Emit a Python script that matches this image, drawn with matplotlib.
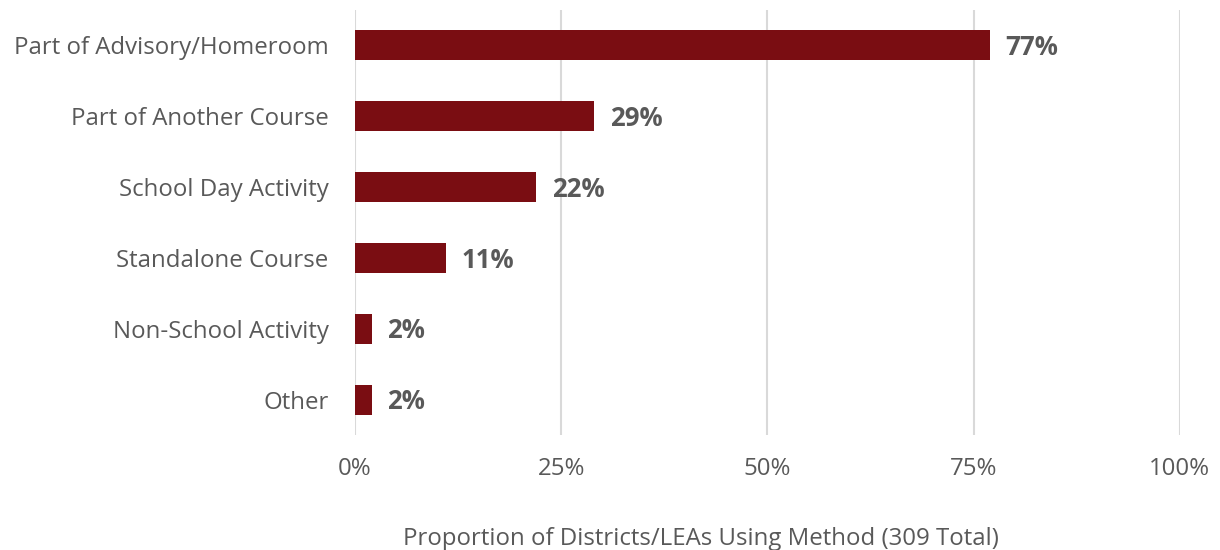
import matplotlib
import matplotlib.pyplot as plt
from matplotlib.ticker import FuncFormatter

plt.switch_backend("agg")
matplotlib.rcParams["font.family"] = ["Open Sans", "DejaVu Sans"]

categories = [
    "Part of Advisory/Homeroom",
    "Part of Another Course",
    "School Day Activity",
    "Standalone Course",
    "Non-School Activity",
    "Other",
]
shares = [77, 29, 22, 11, 2, 2]
x_ticks = [0, 25, 50, 75, 100]

BAR_COLOR = "#7A0D12"
TEXT_COLOR = "#595959"
GRID_COLOR = "#D9D9D9"

fig = plt.figure(figsize=(12.2, 5.5), dpi=100)
ax = fig.add_axes([0.291, 0.209, 0.676, 0.773])

pos = list(range(len(categories)))
ax.barh(pos, shares, height=0.42, color=BAR_COLOR, zorder=3)

# value labels just right of each bar end
for y, v in zip(pos, shares):
    ax.text(v + 1.9, y + 0.03, f"{v}%", va="center", ha="left",
            fontsize=18.5, fontweight="bold", color=TEXT_COLOR)

ax.set_xlim(0, 100)
ax.set_ylim(len(categories) - 0.5, -0.5)
ax.set_yticks(pos)
ax.set_yticklabels(categories, fontsize=17.3, color=TEXT_COLOR)
ax.set_xticks(x_ticks)
ax.xaxis.set_major_formatter(FuncFormatter(lambda v, _: f"{v:.0f}%"))
ax.tick_params(axis="x", labelsize=17.3, labelcolor=TEXT_COLOR, length=0, pad=16)
ax.tick_params(axis="y", length=0, pad=19)

ax.grid(axis="x", color=GRID_COLOR, linewidth=1.5, zorder=0)
for side in ["top", "right", "bottom", "left"]:
    ax.spines[side].set_visible(False)

ax.set_xlabel("Proportion of Districts/LEAs Using Method (309 Total)",
              fontsize=17.3, color=TEXT_COLOR, labelpad=33, x=0.42)

fig.savefig("out.png", dpi=100, facecolor="white")
